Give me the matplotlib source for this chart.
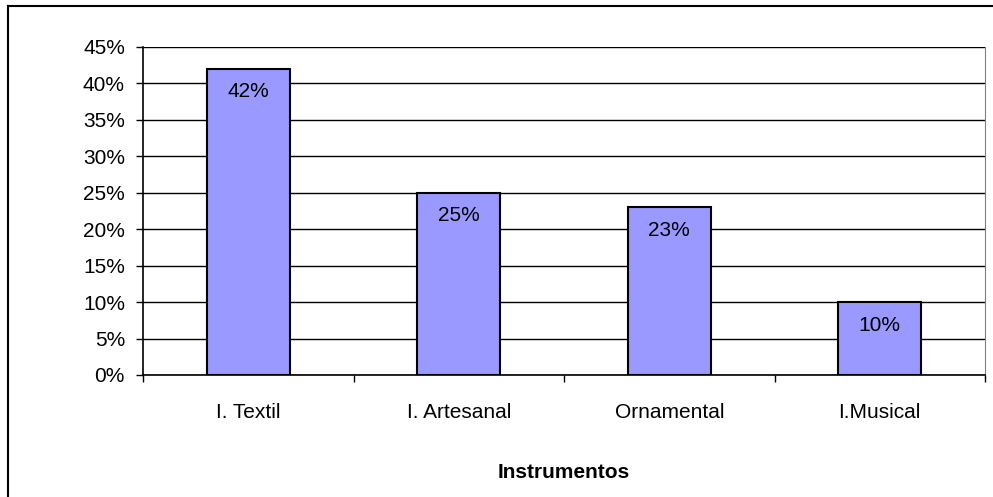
import matplotlib
matplotlib.use("Agg")
import matplotlib.pyplot as plt
from matplotlib.lines import Line2D
from matplotlib.ticker import FixedLocator, PercentFormatter

# data
categorias = ["I. Textil", "I. Artesanal", "Ornamental", "I.Musical"]
valores = [42, 25, 23, 10]
y_ticks = [0, 5, 10, 15, 20, 25, 30, 35, 40, 45]
x_titulo = "Instrumentos"

plt.rcParams['font.family'] = ['Liberation Sans', 'DejaVu Sans']
fs = 15

W, H = 993, 497
fig = plt.figure(figsize=(W / 100, H / 100), dpi=100)
ax = fig.add_axes([143 / W, 1 - 375 / H, (985 - 143) / W, (375 - 47) / H])

pos = list(range(len(categorias)))
bars = ax.bar(pos, valores, width=0.395, color="#9999FF", edgecolor="black",
              linewidth=1.5, zorder=3)

# labels inside the bars, just under the top
for b, v in zip(bars, valores):
    ax.annotate(f"{v}%", (b.get_x() + b.get_width() / 2, v),
                xytext=(0, -23), textcoords="offset pixels",
                ha="center", va="center", fontsize=fs, zorder=4)

ax.set_xlim(-0.5, len(categorias) - 0.5)
ax.set_ylim(0, 45)
ax.set_yticks(y_ticks)
ax.yaxis.set_major_formatter(PercentFormatter(decimals=0))
ax.grid(axis="y", color="black", linewidth=1, zorder=0)

# category boundaries as major ticks, names on minor ticks
ax.xaxis.set_major_locator(FixedLocator([p - 0.5 for p in pos] + [pos[-1] + 0.5]))
ax.xaxis.set_minor_locator(FixedLocator(pos))
ax.xaxis.set_major_formatter(plt.NullFormatter())
ax.set_xticklabels(categorias, minor=True)
ax.tick_params(axis="x", which="major", length=5, width=1, direction="out")
ax.tick_params(axis="x", which="minor", length=0, pad=20, labelsize=fs)
ax.tick_params(axis="y", length=5, width=1, direction="out", pad=8, labelsize=fs)

for s in ["left", "bottom"]:
    ax.spines[s].set_linewidth(1.2)
    ax.spines[s].set_color("black")
ax.spines["top"].set_visible(False)
ax.spines["right"].set_color("#808080")

ax.set_xlabel(x_titulo, fontsize=fs, fontweight="bold", labelpad=30)

# outer chart frame (left and top edges visible in the picture)
fig.add_artist(Line2D([8 / W, 8 / W], [0, 1 - 6 / H], transform=fig.transFigure,
                      color="black", linewidth=1.5))
fig.add_artist(Line2D([8 / W, 1], [1 - 6 / H, 1 - 6 / H], transform=fig.transFigure,
                      color="black", linewidth=1.5))

fig.savefig("out.png", dpi=100)
